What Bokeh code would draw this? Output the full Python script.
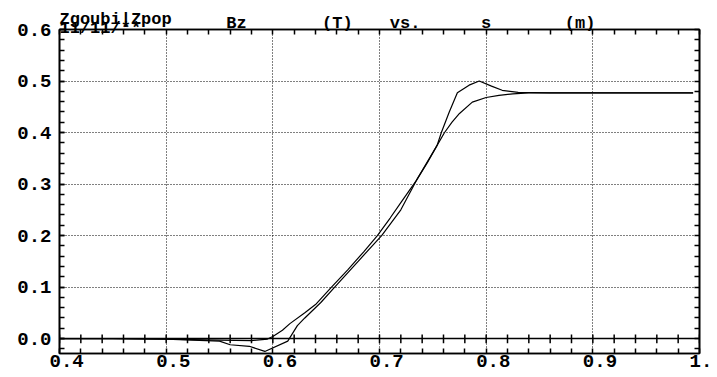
import numpy as np
from bokeh.plotting import figure
from bokeh.models import (LinearAxis, FixedTicker, Span, Range1d)
from bokeh.core.properties import value
from bokeh.embed import file_html
from bokeh.resources import INLINE

# ---- data ----
s_smooth = [0.40, 0.45, 0.50, 0.55, 0.58, 0.595, 0.60, 0.609, 0.616, 0.63, 0.64,
            0.655, 0.67, 0.685, 0.698, 0.71, 0.72, 0.7346, 0.745, 0.754, 0.761,
            0.768, 0.775, 0.787, 0.80, 0.812, 0.825, 0.84, 0.86, 0.90, 0.95, 0.994]
bz_smooth = [0.0, 0.0, -0.001, -0.003, -0.004, -0.001, 0.004, 0.016, 0.029, 0.05, 0.066,
             0.10, 0.133, 0.168, 0.20, 0.234, 0.264, 0.307, 0.342, 0.375, 0.40,
             0.42, 0.437, 0.459, 0.468, 0.472, 0.475, 0.477, 0.477, 0.477, 0.477, 0.477]

s_sharp = [0.40, 0.45, 0.50, 0.55, 0.56, 0.578, 0.5925, 0.614, 0.623, 0.63, 0.645,
           0.658, 0.68, 0.702, 0.72, 0.7346, 0.754, 0.758, 0.7654, 0.773, 0.784,
           0.7935, 0.805, 0.815, 0.83, 0.86, 0.90, 0.95, 0.994]
bz_sharp = [0.0, 0.0, -0.001, -0.005, -0.012, -0.015, -0.025, -0.005, 0.025, 0.04, 0.07,
            0.10, 0.15, 0.20, 0.25, 0.307, 0.375, 0.40, 0.44, 0.477, 0.492,
            0.50, 0.49, 0.482, 0.478, 0.477, 0.477, 0.477, 0.477]

x_ticks = [0.4, 0.5, 0.6, 0.7, 0.8, 0.9, 1.0]
x_tick_labels = ["0.4", "0.5", "0.6", "0.7", "0.8", "0.9", "1."]
y_ticks = [0.0, 0.1, 0.2, 0.3, 0.4, 0.5, 0.6]
y_tick_labels = ["0.0", "0.1", "0.2", "0.3", "0.4", "0.5", "0.6"]
title_words = ["Bz", "(T)", "vs.", "s", "(m)"]
title_word_x = [0.566, 0.6605, 0.724, 0.800, 0.888]
title_left = "Zgoubi|Zpop"
title_date = "11/11/**"

X_MIN, X_MAX = 0.4, 1.0
Y_MIN, Y_MAX = -0.029, 0.6

FONT = "Liberation Mono"

minor_x = [float(round(v, 3)) for v in np.arange(X_MIN, X_MAX + 1e-9, 0.02)]
minor_y = [float(round(v, 3)) for v in np.arange(-0.02, Y_MAX + 1e-9, 0.02)]

p = figure(width=717, height=377, output_backend="svg", toolbar_location=None,
           x_range=Range1d(X_MIN, X_MAX), y_range=Range1d(Y_MIN, Y_MAX),
           min_border_left=59, min_border_right=18, min_border_top=29,
           min_border_bottom=24)
p.background_fill_color = "white"
p.border_fill_color = "white"
p.outline_line_color = "black"
p.outline_line_width = 1.6


def style_axis(ax):
    ax.axis_line_color = "black"
    ax.axis_line_width = 1.6
    ax.major_tick_in = 5
    ax.major_tick_out = 0
    ax.minor_tick_in = 5
    ax.minor_tick_out = 0
    ax.major_tick_line_color = "black"
    ax.minor_tick_line_color = "black"
    ax.major_tick_line_width = 1.5
    ax.minor_tick_line_width = 1.5


# bottom axis: ticks only (labels drawn as text below)
p.xaxis.ticker = FixedTicker(ticks=[], minor_ticks=minor_x)
style_axis(p.xaxis[0])
# left axis with labels
p.yaxis.ticker = FixedTicker(ticks=y_ticks, minor_ticks=minor_y)
p.yaxis.major_label_overrides = {v: t for v, t in zip(y_ticks, y_tick_labels)}
style_axis(p.yaxis[0])
p.yaxis.major_label_text_font = FONT
p.yaxis.major_label_text_font_style = "bold"
p.yaxis.major_label_text_font_size = "19px"
p.yaxis.major_label_text_color = "black"
p.yaxis.major_label_standoff = 8

top = LinearAxis(ticker=FixedTicker(ticks=[], minor_ticks=minor_x))
style_axis(top)
p.add_layout(top, "above")
right = LinearAxis(ticker=FixedTicker(ticks=[], minor_ticks=minor_y))
style_axis(right)
p.add_layout(right, "right")

# grids: dotted
p.xgrid.ticker = FixedTicker(ticks=x_ticks)
p.ygrid.ticker = FixedTicker(ticks=y_ticks)
for g in (p.xgrid[0], p.ygrid[0]):
    g.grid_line_color = "black"
    g.grid_line_dash = "1 2"
    g.grid_line_width = 1

# zero line with crossing ticks
p.add_layout(Span(location=0, dimension="width", line_color="black", line_width=1.6))
p.segment(x0=minor_x, y0=[-0.009] * len(minor_x), x1=minor_x, y1=[0.008] * len(minor_x),
          line_color="black", line_width=1.5)

# curves
p.line(s_smooth, bz_smooth, line_color="black", line_width=1.2)
p.line(s_sharp, bz_sharp, line_color="black", line_width=1.2)

# x tick labels
p.text(x=x_ticks, y=[Y_MIN] * len(x_ticks), text=x_tick_labels, x_offset=-10, y_offset=1,
       text_align="left", text_baseline="top", text_font=value(FONT),
       text_font_style="bold", text_font_size="19px", text_color="black", level="overlay")

# title texts
p.text(x=[X_MIN], y=[Y_MAX], text=[title_left], x_offset=0, y_offset=-10,
       text_align="left", text_baseline="alphabetic", text_font=value(FONT),
       text_font_style="bold", text_font_size="17px", text_color="black", level="overlay")
p.text(x=[X_MIN], y=[Y_MAX], text=[title_date], x_offset=0, y_offset=-1,
       text_align="left", text_baseline="alphabetic", text_font=value(FONT),
       text_font_style="bold", text_font_size="17px", text_color="black", level="overlay")
p.text(x=title_word_x, y=[Y_MAX] * len(title_words), text=title_words, y_offset=-6,
       text_align="center", text_baseline="alphabetic", text_font=value(FONT),
       text_font_style="bold", text_font_size="17px", text_color="black", level="overlay")

open("out.html", "w").write(file_html(p, INLINE))
